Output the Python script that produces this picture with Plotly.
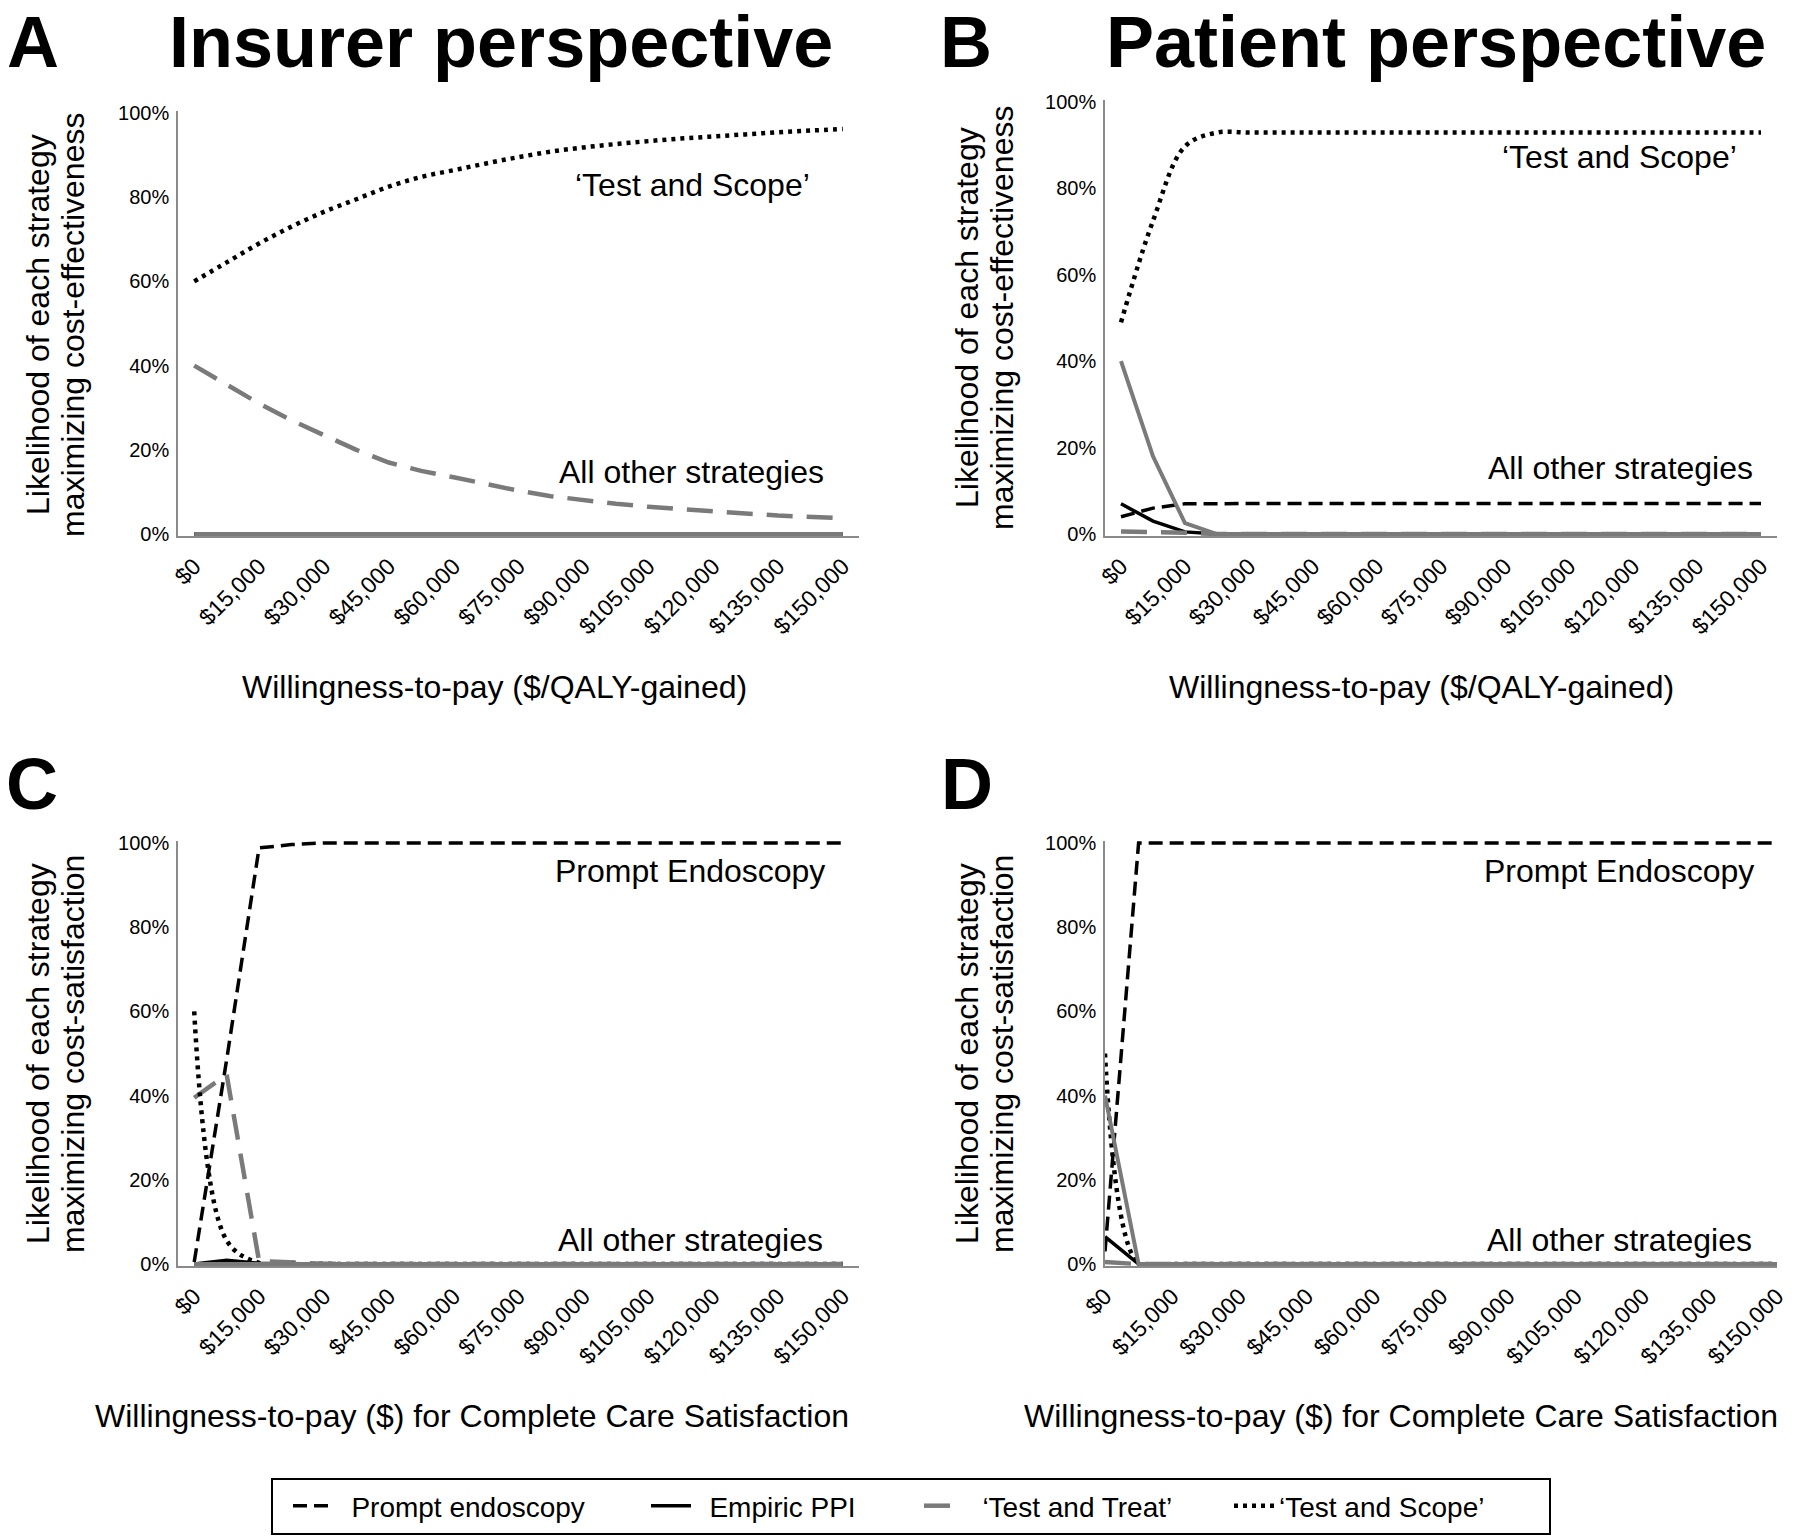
import plotly.graph_objects as go

W, H = 1800, 1540
FONT = "Liberation Sans, Arial, sans-serif"

# ---------------- data ----------------
wtp = [0, 7500, 15000, 22500, 30000, 37500, 45000, 52500, 60000, 67500, 75000,
       82500, 90000, 97500, 105000, 112500, 120000, 127500, 135000, 142500, 150000]
x_tickvals = [0, 15000, 30000, 45000, 60000, 75000, 90000, 105000, 120000, 135000, 150000]
x_ticktext = ["$0", "$15,000", "$30,000", "$45,000", "$60,000", "$75,000", "$90,000",
              "$105,000", "$120,000", "$135,000", "$150,000"]
y_tickvals = [0, 20, 40, 60, 80, 100]
y_ticktext = ["0%", "20%", "40%", "60%", "80%", "100%"]

# Panel A - insurer, cost-effectiveness
pe_A = [0, 0, 0, 0, 0, 0, 0, 0, 0, 0, 0, 0, 0, 0, 0, 0, 0, 0, 0, 0, 0]
ppi_A = [0, 0, 0, 0, 0, 0, 0, 0, 0, 0, 0, 0, 0, 0, 0, 0, 0, 0, 0, 0, 0]
tt_A = [40, 35.5, 31, 27, 23.5, 20, 17, 15, 13.5, 11.8, 10.3, 9, 8, 7.2, 6.5, 5.9, 5.4, 4.9, 4.4, 4.1, 3.8]
ts_A = [60, 64.5, 69, 73, 76.5, 79.5, 82.5, 84.8, 86.4, 88, 89.5, 90.8, 91.8, 92.6, 93.3, 93.9, 94.4, 94.9, 95.4, 95.8, 96.2]
oth_A = [0, 0, 0, 0, 0, 0, 0, 0, 0, 0, 0, 0, 0, 0, 0, 0, 0, 0, 0, 0, 0]

# Panel B - patient, cost-effectiveness
pe_B = [4, 6, 7, 7.1, 7.1, 7.1, 7.1, 7.1, 7.1, 7.1, 7.1, 7.1, 7.1, 7.1, 7.1, 7.1, 7.1, 7.1, 7.1, 7.1, 7.1]
ppi_B = [7, 3, 0.5, 0, 0, 0, 0, 0, 0, 0, 0, 0, 0, 0, 0, 0, 0, 0, 0, 0, 0]
tt_B = [0.6, 0.5, 0.3, 0, 0, 0, 0, 0, 0, 0, 0, 0, 0, 0, 0, 0, 0, 0, 0, 0, 0]
ts_B = [49, 72.5, 89.7, 92.9, 92.9, 92.9, 92.9, 92.9, 92.9, 92.9, 92.9, 92.9, 92.9, 92.9, 92.9, 92.9, 92.9, 92.9, 92.9, 92.9, 92.9]
oth_B = [40, 18, 2.5, 0, 0, 0, 0, 0, 0, 0, 0, 0, 0, 0, 0, 0, 0, 0, 0, 0, 0]

# Panel C - insurer, cost-satisfaction
pe_C = [0.5, 48.5, 98.8, 99.6, 100, 100, 100, 100, 100, 100, 100, 100, 100, 100, 100, 100, 100, 100, 100, 100, 100]
ppi_C = [0, 0.9, 0.2, 0, 0, 0, 0, 0, 0, 0, 0, 0, 0, 0, 0, 0, 0, 0, 0, 0, 0]
tt_C = [39.5, 45, 0.7, 0.3, 0.1, 0, 0, 0, 0, 0, 0, 0, 0, 0, 0, 0, 0, 0, 0, 0, 0]
ts_C = [60, 5.6, 0.3, 0, 0, 0, 0, 0, 0, 0, 0, 0, 0, 0, 0, 0, 0, 0, 0, 0, 0]
oth_C = [0, 0, 0, 0, 0, 0, 0, 0, 0, 0, 0, 0, 0, 0, 0, 0, 0, 0, 0, 0, 0]

# Panel D - patient, cost-satisfaction
pe_D = [3, 100, 100, 100, 100, 100, 100, 100, 100, 100, 100, 100, 100, 100, 100, 100, 100, 100, 100, 100, 100]
ppi_D = [6.5, 0, 0, 0, 0, 0, 0, 0, 0, 0, 0, 0, 0, 0, 0, 0, 0, 0, 0, 0, 0]
tt_D = [0.5, 0, 0, 0, 0, 0, 0, 0, 0, 0, 0, 0, 0, 0, 0, 0, 0, 0, 0, 0, 0]
ts_D = [50, 0, 0, 0, 0, 0, 0, 0, 0, 0, 0, 0, 0, 0, 0, 0, 0, 0, 0, 0, 0]
oth_D = [40, 0, 0, 0, 0, 0, 0, 0, 0, 0, 0, 0, 0, 0, 0, 0, 0, 0, 0, 0, 0]

names = ["Prompt endoscopy", "Empiric PPI", "\u2018Test and Treat\u2019", "\u2018Test and Scope\u2019"]

# ---------------- helpers ----------------
def px(x):
    return x / W

def py(y):
    return 1 - y / H

GRAY = "#7a7a7a"
styles = [
    dict(color="black", width=3.5, dash="14px,7px"),
    dict(color="black", width=3.5),
    dict(color=GRAY, width=4.5, dash="26px,14px"),
    dict(color="black", width=4.5, dash="4px,5px"),
]

fig = go.Figure()

panels = [
    ("x", "y", [pe_A, ppi_A, tt_A, ts_A], oth_A, True),
    ("x2", "y2", [pe_B, ppi_B, tt_B, ts_B], oth_B, False),
    ("x3", "y3", [pe_C, ppi_C, tt_C, ts_C], oth_C, False),
    ("x4", "y4", [pe_D, ppi_D, tt_D, ts_D], oth_D, False),
]
legend_ids = ["legend", "legend2", "legend3", "legend4"]
legend_pad = ["\u00a0\u2009", "\u00a0\u2009", "\u00a0\u2009", ""]

for xa, ya, series, oth, show in panels:
    for i, (vals, st) in enumerate(zip(series, styles)):
        fig.add_trace(go.Scatter(
            x=wtp, y=vals, xaxis=xa, yaxis=ya, mode="lines",
            name=legend_pad[i] + names[i],
            line=dict(**st, shape="spline" if i == 3 else "linear"),
            showlegend=show, legend=legend_ids[i], hoverinfo="skip"))
    fig.add_trace(go.Scatter(
        x=wtp, y=oth, xaxis=xa, yaxis=ya, mode="lines",
        line=dict(color=GRAY, width=4), showlegend=False, hoverinfo="skip"))

# ---------------- axes ----------------
AXC = "#8a8a8a"
def xaxis(domain, rng, anchor):
    return dict(domain=domain, range=rng, anchor=anchor, showline=True, linecolor=AXC,
                linewidth=1.5, showgrid=False, zeroline=False, tickmode="array",
                tickvals=x_tickvals, ticktext=x_ticktext, tickangle=-45, ticks="",
                automargin=False,
                ticklabelstandoff=6, tickfont=dict(family=FONT, size=23, color="black"))

def yaxis(domain, anchor):
    return dict(domain=domain, range=[-0.45, 100.45], anchor=anchor, showline=True,
                linecolor=AXC, linewidth=1.5, showgrid=False, zeroline=False,
                automargin=False,
                tickmode="array", tickvals=y_tickvals, ticktext=y_ticktext, ticks="",
                ticklabelstandoff=3, tickfont=dict(family=FONT, size=20, color="black"))

xl = [px(178), px(859)]
xr = [px(1105), px(1777)]
yA = [py(536), py(111)]
yB = [py(536), py(100)]
yC = [py(1266), py(841)]
yD = [py(1266), py(841)]

layout = dict(
    width=W, height=H, margin=dict(l=0, r=0, t=0, b=0, autoexpand=False),
    paper_bgcolor="white", plot_bgcolor="white",
    font=dict(family=FONT, color="black"),
    xaxis=xaxis(xl, [-3750, 153750], "y"),
    yaxis=yaxis(yA, "x"),
    xaxis2=xaxis(xr, [-3750, 153750], "y2"),
    yaxis2=yaxis(yB, "x2"),
    xaxis3=xaxis(xl, [-3750, 153750], "y3"),
    yaxis3=yaxis(yC, "x3"),
    xaxis4=xaxis(xr, [0, 150000], "y4"),
    yaxis4=yaxis(yD, "x4"),
)

leg_x = [288, 646, 919, 1229]
for lid, lx in zip(legend_ids, leg_x):
    layout[lid] = dict(x=px(lx), y=py(1506), xanchor="left", yanchor="middle",
                       orientation="h", bgcolor="rgba(0,0,0,0)", borderwidth=0,
                       itemwidth=40, font=dict(family=FONT, size=28, color="black"))

fig.update_layout(**layout)

# legend border
fig.add_shape(type="rect", xref="paper", yref="paper",
              x0=px(272), x1=px(1550), y0=py(1534), y1=py(1479),
              line=dict(color="black", width=2))

anns = []
def ann(text, x, y, size, bold=False, angle=0, yanchor="middle"):
    anns.append(dict(text=f"<b>{text}</b>" if bold else text, x=px(x), y=py(y),
                     xref="paper", yref="paper", showarrow=False, xanchor="center",
                     yanchor=yanchor, textangle=angle,
                     font=dict(family=FONT, size=size, color="black")))

# panel letters and titles
ann("A", 33, 0, 72, True, yanchor="top")
ann("B", 966, 0, 72, True, yanchor="top")
ann("C", 32, 784, 72, True)
ann("D", 967, 784, 72, True)
ann("Insurer perspective", 501, 0, 72, True, yanchor="top")
ann("Patient perspective", 1436, 0, 72, True, yanchor="top")

# y axis titles (two lines each)
for cx1, cx2, cy, second in [(38, 73, 325, "maximizing cost-effectiveness"),
                             (967, 1002, 318, "maximizing cost-effectiveness"),
                             (38, 73, 1054, "maximizing cost-satisfaction"),
                             (967, 1002, 1054, "maximizing cost-satisfaction")]:
    ann("Likelihood of each strategy", cx1, cy, 32, angle=-90)
    ann(second, cx2, cy, 32, angle=-90)

# x axis titles
ann("Willingness-to-pay ($/QALY-gained)", 494, 687, 32)
ann("Willingness-to-pay ($/QALY-gained)", 1421, 687, 32)
ann("Willingness-to-pay ($) for Complete Care Satisfaction", 472, 1416, 32)
ann("Willingness-to-pay ($) for Complete Care Satisfaction", 1401, 1416, 32)

# in-plot labels
ann("\u2018Test and Scope\u2019", 692, 185, 32)
ann("All other strategies", 691, 472, 32)
ann("\u2018Test and Scope\u2019", 1619, 157, 32)
ann("All other strategies", 1620, 468, 32)
ann("Prompt Endoscopy", 690, 871, 32)
ann("All other strategies", 690, 1240, 32)
ann("Prompt Endoscopy", 1619, 871, 32)
ann("All other strategies", 1619, 1240, 32)

fig.update_layout(annotations=anns)

fig.write_html("out.html", config={"displayModeBar": False},
               post_script="document.body.style.margin='0';document.body.style.overflow='hidden';")
